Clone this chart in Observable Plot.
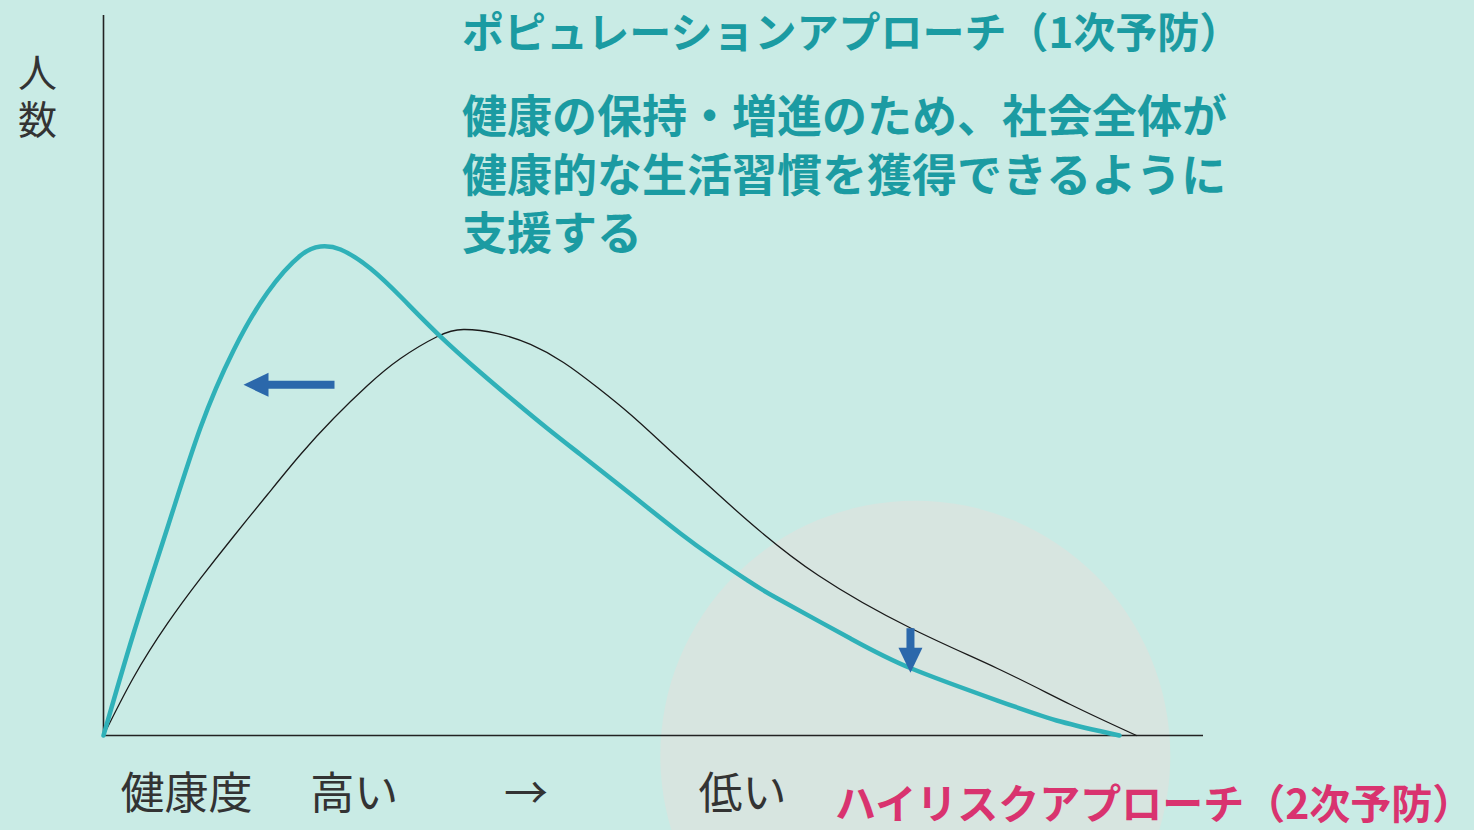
<!DOCTYPE html>
<html><head><meta charset="utf-8">
<script src="https://cdn.jsdelivr.net/npm/d3@7"></script>
<script src="https://cdn.jsdelivr.net/npm/@observablehq/plot@0.6"></script>
<style>
html,body{margin:0;padding:0;background:#c9ebe5;overflow:hidden;}
#chart svg{display:block;}
</style></head>
<body><div id="chart"></div>
<script>
// Health score (0 = healthiest, left) vs number of people
const popX  = [0, 2.73, 5.82, 8.82, 11.82, 14.91, 17.91, 19.73, 21.55, 24.27, 27.18, 30.45, 34.27, 37.27, 40.36, 43.36, 46.36, 49.45, 52.45, 55.45, 58.55, 61.27, 67.91, 73.45, 81.27, 87.0, 92.36];
const popY  = [0, 14.17, 28.89, 42.78, 53.47, 61.53, 66.67, 67.92, 67.50, 64.86, 60.69, 55.69, 50.42, 46.53, 42.64, 39.03, 35.42, 31.67, 28.06, 24.72, 21.53, 19.03, 13.47, 9.31, 4.86, 1.94, 0];
const baseX = [0, 2.73, 5.82, 8.82, 11.82, 14.91, 17.91, 20.91, 24.0, 27.0, 30.36, 32.73, 35.82, 38.82, 41.82, 44.91, 47.91, 50.91, 54.0, 58.55, 65.0, 73.45, 81.27, 87.9, 93.91];
const baseY = [0, 8.06, 15.56, 21.81, 27.64, 33.47, 39.03, 44.03, 48.61, 52.36, 55.42, 56.39, 55.83, 54.31, 51.81, 48.33, 44.58, 40.42, 36.11, 29.86, 22.22, 14.86, 9.31, 4.31, 0];

const yLabel = ["人", "数"];
const xLabels = ["健康度", "高い", "→", "低い"];
const titleText = "ポピュレーションアプローチ（1次予防）";
const bodyLines = ["健康の保持・増進のため、社会全体が", "健康的な生活習慣を獲得できるように", "支援する"];
const highRiskText = "ハイリスクアプローチ（2次予防）";

const popData = popX.map((x, i) => ({x, y: popY[i]}));
const baseData = baseX.map((x, i) => ({x, y: baseY[i]}));

const FONT = "'Noto Sans CJK JP', 'Noto Sans', sans-serif";
const TEAL_TEXT = "#1b9ba2";
const TEAL_LINE = "#2fb1b8";
const BLUE = "#2b68ab";
const PINK = "#d9336f";

function headShape(dir) {
  return {
    draw(ctx, size) {
      const r = Math.sqrt(size / Math.PI);
      const L = 2.5 * r, W = 1.2 * r;
      if (dir === "left") {
        ctx.moveTo(-L, 0); ctx.lineTo(0, -W); ctx.lineTo(0, W); ctx.closePath();
      } else {
        ctx.moveTo(0, L); ctx.lineTo(-W, 0); ctx.lineTo(W, 0); ctx.closePath();
      }
    }
  };
}

const chart = Plot.plot({
  width: 1474,
  height: 830,
  marginLeft: 103,
  marginRight: 271,
  marginTop: 15,
  marginBottom: 95,
  style: {background: "#c9ebe5", fontFamily: FONT, overflow: "visible"},
  x: {domain: [0, 100], axis: null},
  y: {domain: [0, 100], axis: null},
  marks: [
    // high-risk zone
    Plot.dot([{x: 73.8, y: -2.8}], {x: "x", y: "y", r: 255, fill: "#d7e5e0", stroke: "none"}),
    Plot.ruleX([0], {stroke: "#222", strokeWidth: 1.6}),
    Plot.ruleY([0], {stroke: "#222", strokeWidth: 1.6}),
    Plot.line(baseData, {x: "x", y: "y", curve: "natural", stroke: "#1a1a1a", strokeWidth: 1.3}),
    Plot.line(popData, {x: "x", y: "y", curve: "natural", stroke: TEAL_LINE, strokeWidth: 4.5}),
    // arrows
    Plot.link([{x1: 14.5, x2: 21.0, y1: 48.7, y2: 48.7}], {x1: "x1", x2: "x2", y1: "y1", y2: "y2", stroke: BLUE, strokeWidth: 8}),
    Plot.dot([{x: 15.0, y: 48.7}], {x: "x", y: "y", r: 10, symbol: headShape("left"), fill: BLUE, stroke: "none"}),
    Plot.link([{x1: 73.36, x2: 73.36, y1: 14.9, y2: 11.8}], {x1: "x1", x2: "x2", y1: "y1", y2: "y2", stroke: BLUE, strokeWidth: 8}),
    Plot.dot([{x: 73.36, y: 12.2}], {x: "x", y: "y", r: 10, symbol: headShape("down"), fill: BLUE, stroke: "none"}),
    // y label (stacked vertically)
    Plot.text([yLabel.join("\n")], {x: () => -6.0, y: () => 88.9, text: d => d, lineHeight: 1.2, fontSize: 39, fill: "#333", fontFamily: FONT}),
    // x labels
    Plot.text(xLabels, {x: (d, i) => [1.55, 18.8, 36.4, 54.1][i], y: () => -8.3, text: d => d, textAnchor: "start", fontSize: 44, fill: "#333", fontFamily: FONT}),
    // title
    Plot.text([titleText], {x: () => 32.6, y: () => 97.4, text: d => d, textAnchor: "start", fontSize: 42, fontWeight: "bold", fill: TEAL_TEXT, fontFamily: FONT}),
    Plot.text([bodyLines.join("\n")], {x: () => 32.6, y: () => 78.1, text: d => d, textAnchor: "start", lineHeight: 1.3, fontSize: 45, fontWeight: "bold", fill: TEAL_TEXT, fontFamily: FONT}),
    Plot.text([highRiskText], {x: () => 66.5, y: () => -9.8, text: d => d, textAnchor: "start", fontSize: 41, fontWeight: "bold", fill: PINK, fontFamily: FONT})
  ]
});
document.getElementById("chart").appendChild(chart);
</script>
</body></html>
